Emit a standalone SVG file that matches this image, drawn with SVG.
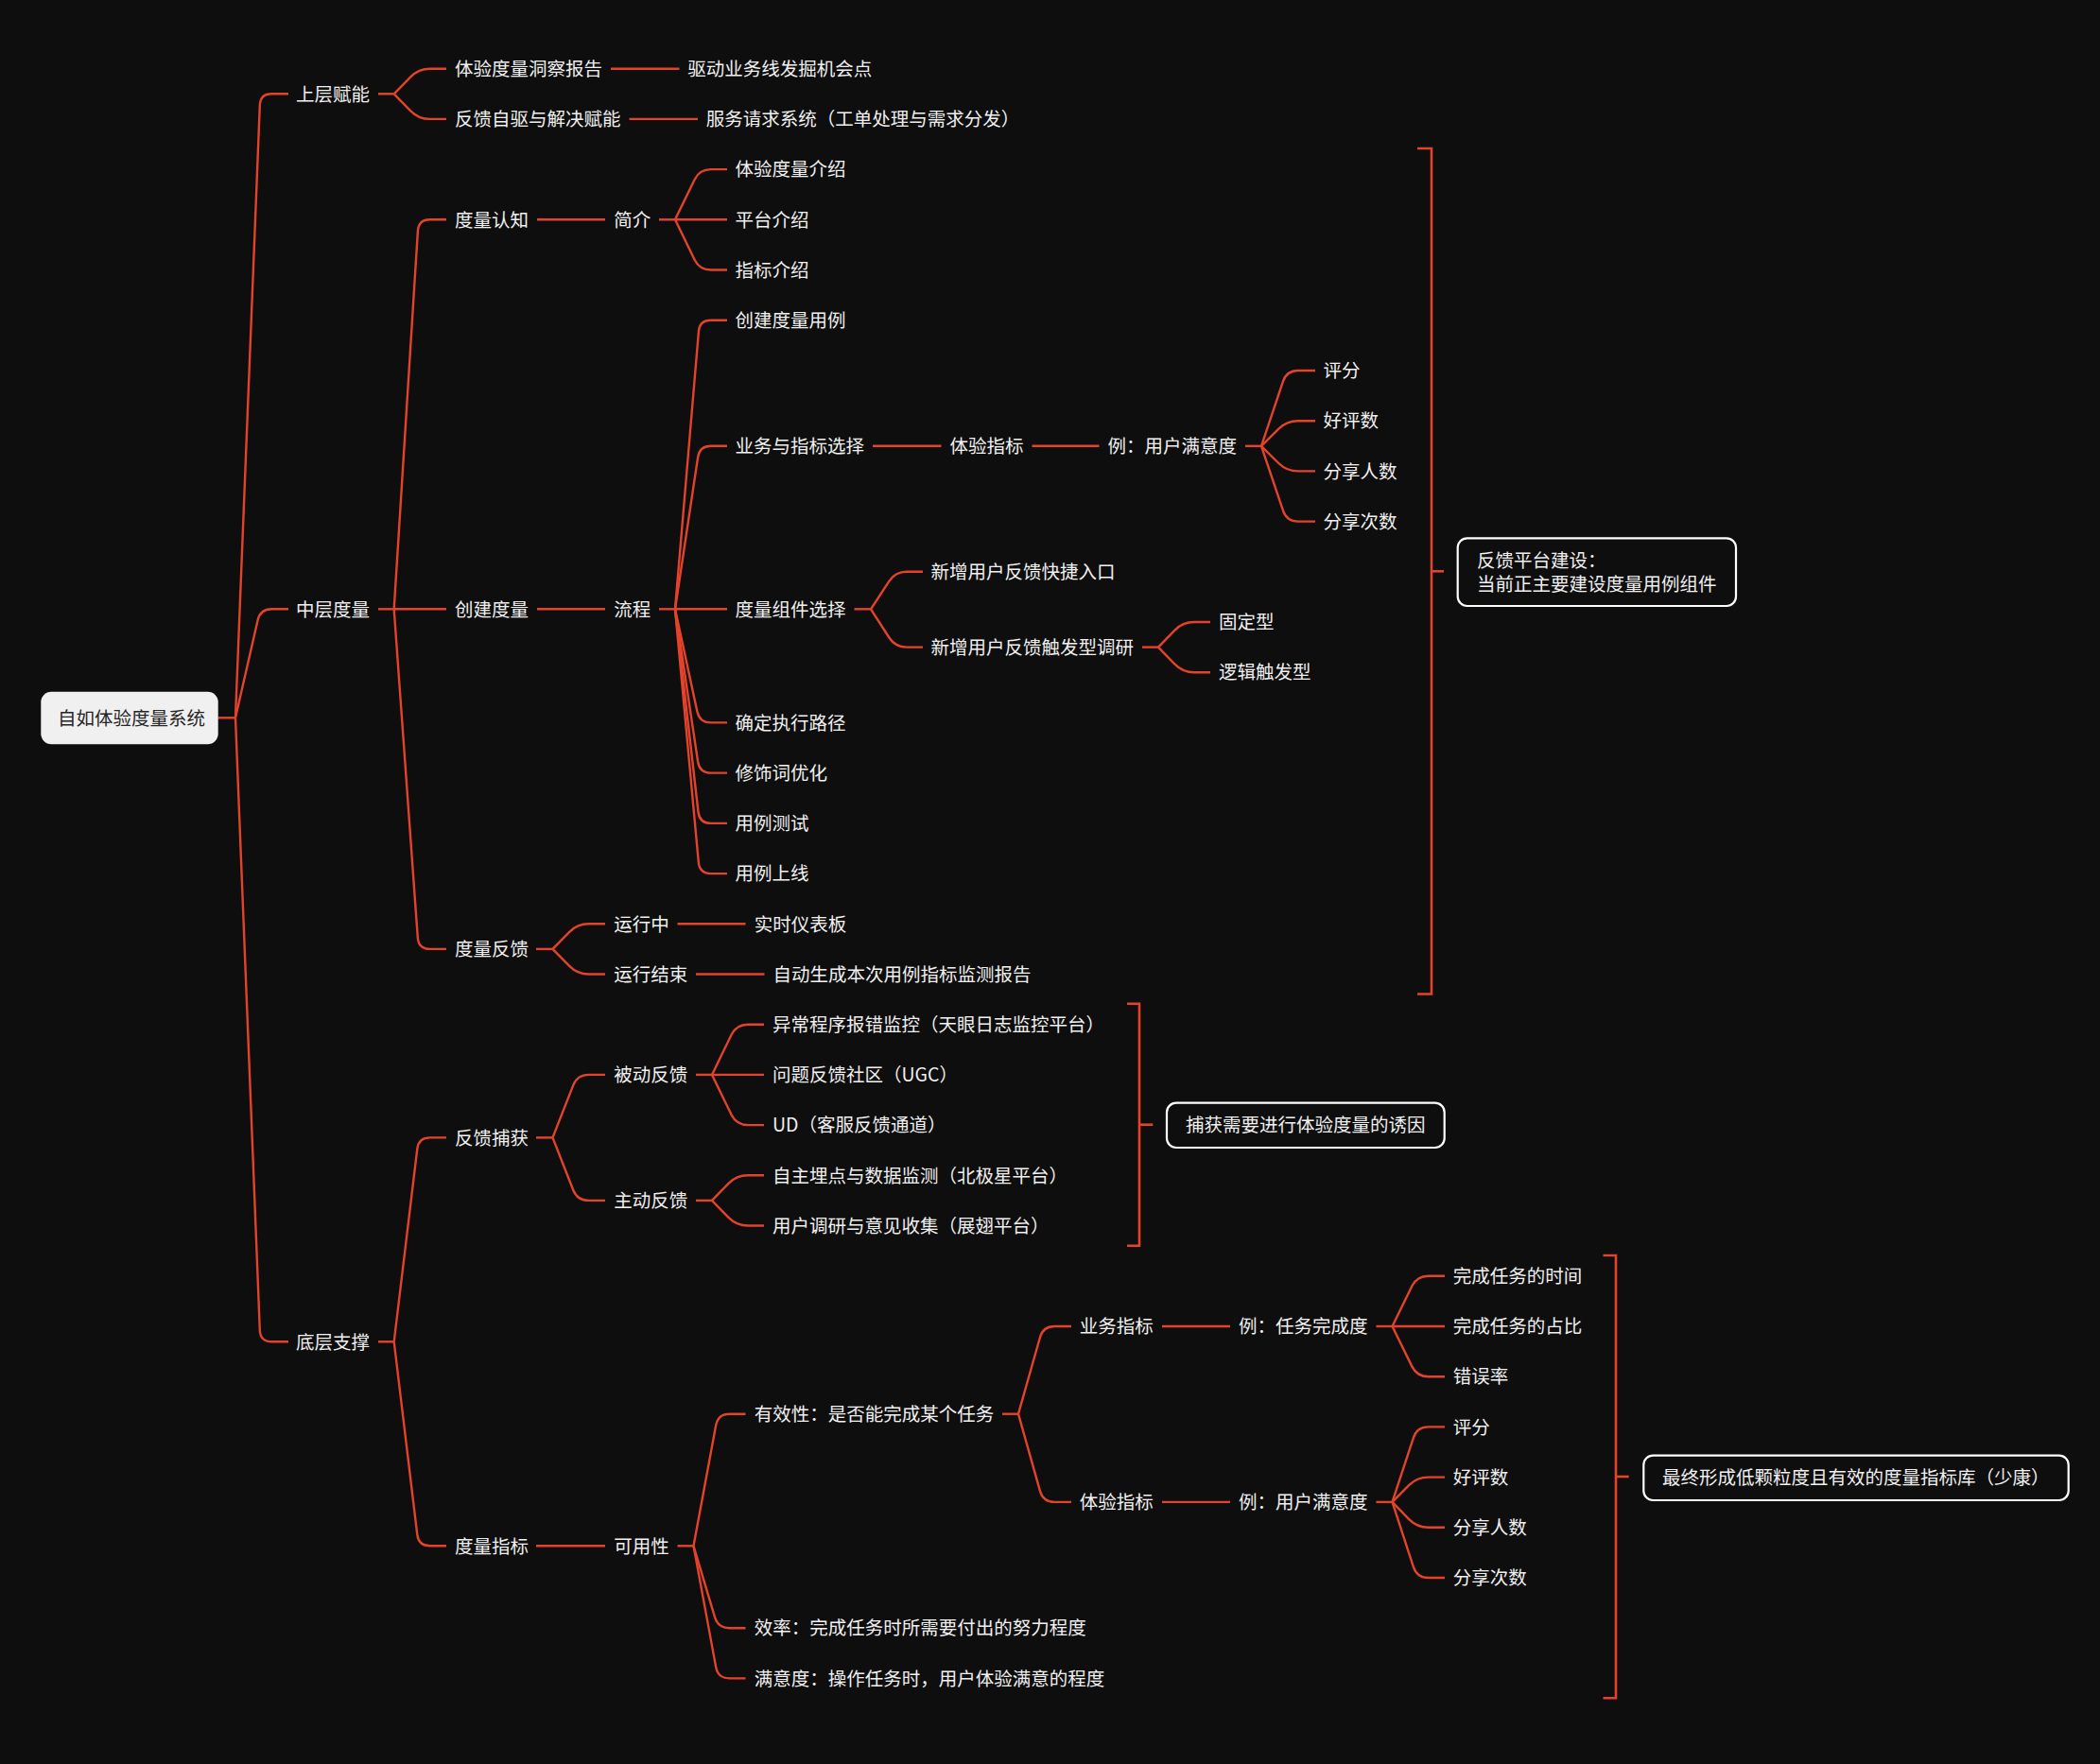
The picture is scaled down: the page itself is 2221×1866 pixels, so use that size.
<svg xmlns="http://www.w3.org/2000/svg" width="2221" height="1866" viewBox="0 0 2221 1866">
<style>
.t{font-family:"Noto Sans CJK SC","Noto Sans",sans-serif;font-size:19.5px;fill:#f0f0f0;dominant-baseline:central;transform:translate(0px,-1.2px)}
.rt{font-family:"Noto Sans CJK SC","Noto Sans",sans-serif;font-size:19.5px;fill:#262626;dominant-baseline:central;transform:translate(0px,-1.2px)}
.c{fill:none;stroke:#e4432b;stroke-width:2.4}
.b{fill:none;stroke:#e4432b;stroke-width:2.6}
.sb{fill:#0e0e0e;stroke:#ffffff;stroke-width:2.2}
</style>
<rect x="0" y="0" width="2221" height="1866" fill="#0e0e0e"/>
<g id="connectors">
<path class="c" d="M230.7 759.3 H249"/>
<path class="c" d="M249 759.3 L274.8 111.3 Q275.3 99.3 287.3 99.3 H305"/>
<path class="c" d="M249 759.3 L272.6 656 Q275.3 644.3 287.3 644.3 H305"/>
<path class="c" d="M249 759.3 L274.8 1407.3 Q275.3 1419.3 287.3 1419.3 H305"/>
<path class="c" d="M400 99.3 H416.7"/>
<path class="c" d="M416.7 99.3 L434.3 81.3 Q442.7 72.7 454.7 72.7 H472"/>
<path class="c" d="M416.7 99.3 L434.3 117.3 Q442.7 125.9 454.7 125.9 H472"/>
<path class="c" d="M646 72.7 H718.5"/>
<path class="c" d="M665.5 125.9 H738"/>
<path class="c" d="M400 644.3 H416.7"/>
<path class="c" d="M416.7 644.3 L441.9 244.3 Q442.7 232.3 454.7 232.3 H472"/>
<path class="c" d="M416.7 644.3 H472"/>
<path class="c" d="M416.7 644.3 L441.8 991.9 Q442.7 1003.9 454.7 1003.9 H472"/>
<path class="c" d="M568 232.3 H640"/>
<path class="c" d="M697 232.3 H714"/>
<path class="c" d="M714 232.3 L734.6 189.9 Q739.9 179.1 751.9 179.1 H769"/>
<path class="c" d="M714 232.3 H769"/>
<path class="c" d="M714 232.3 L734.6 274.7 Q739.9 285.5 751.9 285.5 H769"/>
<path class="c" d="M568 644.3 H640"/>
<path class="c" d="M697 644.3 H714"/>
<path class="c" d="M714 644.3 L738.9 350.8 Q739.9 338.8 751.9 338.8 H769"/>
<path class="c" d="M714 644.3 L738.1 483.7 Q739.9 471.8 751.9 471.8 H769"/>
<path class="c" d="M714 644.3 H769"/>
<path class="c" d="M714 644.3 L737.4 752.7 Q739.9 764.4 751.9 764.4 H769"/>
<path class="c" d="M714 644.3 L738.1 805.7 Q739.9 817.6 751.9 817.6 H769"/>
<path class="c" d="M714 644.3 L738.5 859 Q739.9 870.9 751.9 870.9 H769"/>
<path class="c" d="M714 644.3 L738.8 912.2 Q739.9 924.1 751.9 924.1 H769"/>
<path class="c" d="M923 471.8 H995.5"/>
<path class="c" d="M1091.5 471.8 H1162.5"/>
<path class="c" d="M1317 471.8 H1334"/>
<path class="c" d="M1334 471.8 L1357 403.4 Q1360.8 392 1372.8 392 H1391"/>
<path class="c" d="M1334 471.8 L1352.3 453.6 Q1360.8 445.2 1372.8 445.2 H1391"/>
<path class="c" d="M1334 471.8 L1352.3 490 Q1360.8 498.4 1372.8 498.4 H1391"/>
<path class="c" d="M1334 471.8 L1357 540.2 Q1360.8 551.6 1372.8 551.6 H1391"/>
<path class="c" d="M903.5 644.3 H921"/>
<path class="c" d="M921 644.3 L940.3 614.8 Q946.9 604.8 958.9 604.8 H976"/>
<path class="c" d="M921 644.3 L940.4 674.5 Q946.9 684.6 958.9 684.6 H976"/>
<path class="c" d="M1208 684.6 H1225"/>
<path class="c" d="M1225 684.6 L1242.5 666.6 Q1250.9 658 1262.9 658 H1280"/>
<path class="c" d="M1225 684.6 L1242.5 702.6 Q1250.9 711.2 1262.9 711.2 H1280"/>
<path class="c" d="M567 1003.9 H584.5"/>
<path class="c" d="M584.5 1003.9 L602.2 985.9 Q610.6 977.3 622.6 977.3 H640"/>
<path class="c" d="M584.5 1003.9 L602.2 1021.9 Q610.6 1030.5 622.6 1030.5 H640"/>
<path class="c" d="M716.5 977.3 H788.5"/>
<path class="c" d="M736 1030.5 H808.5"/>
<path class="c" d="M400 1419.3 H416.7"/>
<path class="c" d="M416.7 1419.3 L441.3 1215.3 Q442.7 1203.4 454.7 1203.4 H472"/>
<path class="c" d="M416.7 1419.3 L441.3 1623.4 Q442.7 1635.3 454.7 1635.3 H472"/>
<path class="c" d="M567 1203.4 H584.5"/>
<path class="c" d="M584.5 1203.4 L606.2 1148.1 Q610.6 1136.9 622.6 1136.9 H640"/>
<path class="c" d="M584.5 1203.4 L606.2 1258.7 Q610.6 1269.9 622.6 1269.9 H640"/>
<path class="c" d="M736 1136.9 H753"/>
<path class="c" d="M753 1136.9 L773.6 1094.5 Q778.9 1083.7 790.9 1083.7 H808"/>
<path class="c" d="M753 1136.9 H808"/>
<path class="c" d="M753 1136.9 L773.6 1179.3 Q778.9 1190.1 790.9 1190.1 H808"/>
<path class="c" d="M736 1269.9 H753"/>
<path class="c" d="M753 1269.9 L770.5 1251.9 Q778.9 1243.3 790.9 1243.3 H808"/>
<path class="c" d="M753 1269.9 L770.5 1287.9 Q778.9 1296.5 790.9 1296.5 H808"/>
<path class="c" d="M567 1635.3 H640"/>
<path class="c" d="M716.5 1635.3 H733.5"/>
<path class="c" d="M733.5 1635.3 L757.2 1507.5 Q759.4 1495.7 771.4 1495.7 H788.5"/>
<path class="c" d="M733.5 1635.3 L756 1710.7 Q759.4 1722.2 771.4 1722.2 H788.5"/>
<path class="c" d="M733.5 1635.3 L757.2 1763.6 Q759.4 1775.4 771.4 1775.4 H788.5"/>
<path class="c" d="M1060 1495.7 H1077"/>
<path class="c" d="M1077 1495.7 L1100 1414.5 Q1103.3 1403 1115.3 1403 H1133"/>
<path class="c" d="M1077 1495.7 L1100 1577.4 Q1103.3 1588.9 1115.3 1588.9 H1133"/>
<path class="c" d="M1229 1403 H1301"/>
<path class="c" d="M1455.5 1403 H1472.5"/>
<path class="c" d="M1472.5 1403 L1493.3 1360.5 Q1498.6 1349.7 1510.6 1349.7 H1528"/>
<path class="c" d="M1472.5 1403 H1528"/>
<path class="c" d="M1472.5 1403 L1493.3 1445.4 Q1498.6 1456.2 1510.6 1456.2 H1528"/>
<path class="c" d="M1229 1588.9 H1301"/>
<path class="c" d="M1455.5 1588.9 H1472.5"/>
<path class="c" d="M1472.5 1588.9 L1494.9 1520.8 Q1498.6 1509.4 1510.6 1509.4 H1528"/>
<path class="c" d="M1472.5 1588.9 L1490.1 1571.1 Q1498.6 1562.6 1510.6 1562.6 H1528"/>
<path class="c" d="M1472.5 1588.9 L1490.2 1607.2 Q1498.6 1615.8 1510.6 1615.8 H1528"/>
<path class="c" d="M1472.5 1588.9 L1494.9 1657.6 Q1498.6 1669 1510.6 1669 H1528"/>
<path class="b" d="M1499 157 H1514 V1051.5 H1499"/>
<path class="b" d="M1514 604.3 H1527"/>
<path class="b" d="M1192 1061.7 H1205 V1317.7 H1192"/>
<path class="b" d="M1205 1189.7 H1219.3"/>
<path class="b" d="M1695.5 1328 H1709 V1796.3 H1695.5"/>
<path class="b" d="M1709 1562 H1722.7"/>
</g>
<g id="root"><rect x="43.3" y="731.7" width="187.4" height="55.6" rx="11" fill="#f0f0f0"/><text class="rt" x="61" y="759.3">自如体验度量系统</text></g>
<g id="n-upper"><text class="t" x="313" y="99.3">上层赋能</text></g>
<g id="n-mid"><text class="t" x="313" y="644.3">中层度量</text></g>
<g id="n-bottom"><text class="t" x="313" y="1419.3">底层支撑</text></g>
<g id="n-insight"><text class="t" x="481" y="72.7">体验度量洞察报告</text></g>
<g id="n-drive"><text class="t" x="727.3" y="72.7">驱动业务线发掘机会点</text></g>
<g id="n-selfdrive"><text class="t" x="481" y="125.9">反馈自驱与解决赋能</text></g>
<g id="n-service"><text class="t" x="746.8" y="125.9">服务请求系统（工单处理与需求分发）</text></g>
<g id="n-cognition"><text class="t" x="481" y="232.3">度量认知</text></g>
<g id="n-intro"><text class="t" x="649.3" y="232.3">简介</text></g>
<g id="n-intro1"><text class="t" x="777.5" y="179.1">体验度量介绍</text></g>
<g id="n-intro2"><text class="t" x="777.5" y="232.3">平台介绍</text></g>
<g id="n-intro3"><text class="t" x="777.5" y="285.5">指标介绍</text></g>
<g id="n-create"><text class="t" x="481" y="644.3">创建度量</text></g>
<g id="n-flow"><text class="t" x="649.3" y="644.3">流程</text></g>
<g id="n-f1"><text class="t" x="777.5" y="338.8">创建度量用例</text></g>
<g id="n-f2"><text class="t" x="777.5" y="471.8">业务与指标选择</text></g>
<g id="n-f2a"><text class="t" x="1004.5" y="471.8">体验指标</text></g>
<g id="n-f2b"><text class="t" x="1171.5" y="471.8">例：用户满意度</text></g>
<g id="n-s1"><text class="t" x="1399.5" y="392">评分</text></g>
<g id="n-s2"><text class="t" x="1399.5" y="445.2">好评数</text></g>
<g id="n-s3"><text class="t" x="1399.5" y="498.4">分享人数</text></g>
<g id="n-s4"><text class="t" x="1399.5" y="551.6">分享次数</text></g>
<g id="n-f3"><text class="t" x="777.5" y="644.3">度量组件选择</text></g>
<g id="n-f3a"><text class="t" x="984.5" y="604.8">新增用户反馈快捷入口</text></g>
<g id="n-f3b"><text class="t" x="984.5" y="684.6">新增用户反馈触发型调研</text></g>
<g id="n-fixed"><text class="t" x="1289" y="658">固定型</text></g>
<g id="n-logic"><text class="t" x="1289" y="711.2">逻辑触发型</text></g>
<g id="n-f4"><text class="t" x="777.5" y="764.4">确定执行路径</text></g>
<g id="n-f5"><text class="t" x="777.5" y="817.6">修饰词优化</text></g>
<g id="n-f6"><text class="t" x="777.5" y="870.9">用例测试</text></g>
<g id="n-f7"><text class="t" x="777.5" y="924.1">用例上线</text></g>
<g id="n-feedback"><text class="t" x="481" y="1003.9">度量反馈</text></g>
<g id="n-running"><text class="t" x="649.3" y="977.3">运行中</text></g>
<g id="n-dashboard"><text class="t" x="797.7" y="977.3">实时仪表板</text></g>
<g id="n-ended"><text class="t" x="649.3" y="1030.5">运行结束</text></g>
<g id="n-report"><text class="t" x="817.6" y="1030.5">自动生成本次用例指标监测报告</text></g>
<g id="n-capture"><text class="t" x="481" y="1203.4">反馈捕获</text></g>
<g id="n-passive"><text class="t" x="649.3" y="1136.9">被动反馈</text></g>
<g id="n-p1"><text class="t" x="817" y="1083.7">异常程序报错监控（天眼日志监控平台）</text></g>
<g id="n-p2"><text class="t" x="817" y="1136.9">问题反馈社区（UGC）</text></g>
<g id="n-p3"><text class="t" x="817" y="1190.1">UD（客服反馈通道）</text></g>
<g id="n-active"><text class="t" x="649.3" y="1269.9">主动反馈</text></g>
<g id="n-a1"><text class="t" x="817" y="1243.3">自主埋点与数据监测（北极星平台）</text></g>
<g id="n-a2"><text class="t" x="817" y="1296.5">用户调研与意见收集（展翅平台）</text></g>
<g id="n-metrics"><text class="t" x="481" y="1635.3">度量指标</text></g>
<g id="n-usability"><text class="t" x="649.3" y="1635.3">可用性</text></g>
<g id="n-effective"><text class="t" x="797.7" y="1495.7">有效性：是否能完成某个任务</text></g>
<g id="n-biz"><text class="t" x="1141.8" y="1403">业务指标</text></g>
<g id="n-biz-ex"><text class="t" x="1310" y="1403">例：任务完成度</text></g>
<g id="n-b1"><text class="t" x="1536.7" y="1349.7">完成任务的时间</text></g>
<g id="n-b2"><text class="t" x="1536.7" y="1403">完成任务的占比</text></g>
<g id="n-b3"><text class="t" x="1536.7" y="1456.2">错误率</text></g>
<g id="n-exp"><text class="t" x="1141.8" y="1588.9">体验指标</text></g>
<g id="n-exp-ex"><text class="t" x="1310" y="1588.9">例：用户满意度</text></g>
<g id="n-e1"><text class="t" x="1536.7" y="1509.4">评分</text></g>
<g id="n-e2"><text class="t" x="1536.7" y="1562.6">好评数</text></g>
<g id="n-e3"><text class="t" x="1536.7" y="1615.8">分享人数</text></g>
<g id="n-e4"><text class="t" x="1536.7" y="1669">分享次数</text></g>
<g id="n-efficiency"><text class="t" x="797.7" y="1722.2">效率：完成任务时所需要付出的努力程度</text></g>
<g id="n-satisfaction"><text class="t" x="797.7" y="1775.4">满意度：操作任务时，用户体验满意的程度</text></g>
<g id="sum-platform"><rect class="sb" x="1541.7" y="569.3" width="294.3" height="71.7" rx="10"/><text class="t" x="1562" y="592.3">反馈平台建设：</text><text class="t" x="1562" y="617.3">当前正主要建设度量用例组件</text></g>
<g id="sum-capture"><rect class="sb" x="1234" y="1166.7" width="293.7" height="47.3" rx="10"/><text class="t" x="1254" y="1190">捕获需要进行体验度量的诱因</text></g>
<g id="sum-metrics"><rect class="sb" x="1738.3" y="1539.6" width="449.4" height="47.4" rx="10"/><text class="t" x="1758" y="1563">最终形成低颗粒度且有效的度量指标库（少康）</text></g>
</svg>
